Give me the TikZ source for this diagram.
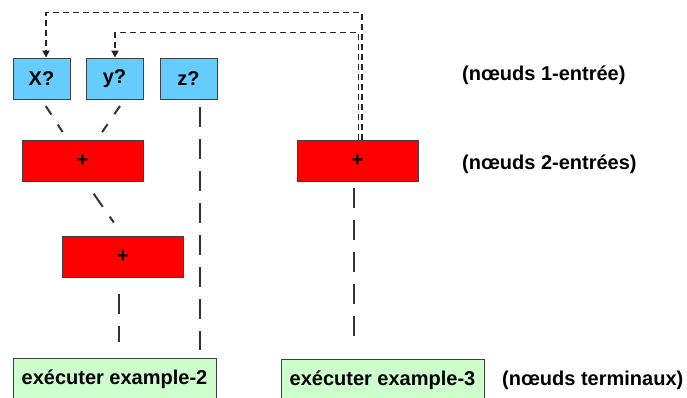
\documentclass[tikz,border=0pt]{standalone}
\usepackage{fontspec}
\setmainfont{Liberation Sans}
\usetikzlibrary{arrows.meta}

\definecolor{entryblue}{HTML}{66CCFF}
\definecolor{addred}{HTML}{FF0000}
\definecolor{termgreen}{HTML}{CCFFCC}

\begin{document}
\begin{tikzpicture}[x=1pt,y=-1pt,
    box/.style={draw=black!75,line width=0.8pt,inner sep=0pt,
      font=\bfseries\fontsize{20}{24}\selectfont},
    entry/.style={box,fill=entryblue,minimum width=57pt,minimum height=41pt},
    adder/.style={box,fill=addred,minimum width=121pt,minimum height=41pt},
    terminal/.style={box,fill=termgreen,minimum width=203pt,minimum height=42pt},
    legend/.style={anchor=west,inner sep=0pt,font=\bfseries\fontsize{20}{24}\selectfont},
    link/.style={line width=2pt,draw=black!80,dash pattern=on 20pt off 12pt},
    feedback/.style={line width=1.8pt,draw=black!85,dash pattern=on 6pt off 4pt,
      -{Triangle[length=7pt,width=7pt]}}]
    \useasboundingbox (0,0) rectangle (687,398);
    \clip (0,0) rectangle (687,398);

    % One-input nodes
    \node[entry] (inX) at (41.5,78.5) {X?};
    \node[entry] (inY) at (114.5,78.5) {y?};
    \node[entry] (inZ) at (188.5,78.5) {z?};

    % Two-input nodes
    \node[adder] (add1) at (82.5,160.5) {+};
    \node[adder] (add2) at (123,256.5) {+};
    \node[adder] (add3) at (357.5,160.5) {+};

    % Terminal nodes (cut by the lower edge)
    \node[terminal] (run2) at (114.5,379) {exécuter example-2};
    \node[terminal] (run3) at (382.5,380) {exécuter example-3};

    % Legend
    \node[legend] (lblIn) at (462,75) {(nœuds 1-entrée)};
    \node[legend] (lblAdd) at (462,164) {(nœuds 2-entrées)};
    \node[legend] (lblRun) at (502,380) {(nœuds terminaux)};

    % Links between the levels
    \draw[link,dash phase=10pt,shorten <=8pt,shorten >=9pt]
      (inX.south) -- ([xshift=-15pt]add1.north);
    \draw[link,dash phase=10pt,shorten <=8pt,shorten >=9pt]
      ([xshift=10pt]inY.south) -- ([xshift=14.5pt]add1.north);
    \draw[link,dash phase=4pt,shorten <=15pt,shorten >=16pt]
      ([xshift=2.5pt]add1.south) -- (add2.north);
    \draw[link,shorten <=17pt,shorten >=16pt]
      ([xshift=-4pt]add2.south) -- ([xshift=-4pt]add2.south |- run2.north);
    \draw[link,shorten <=8pt,shorten >=8pt]
      ([xshift=11.5pt]inZ.south) -- ([xshift=11.5pt]inZ.south |- run2.north);
    \draw[link,shorten <=7pt,shorten >=13pt]
      ([xshift=-3.5pt]add3.south) -- ([xshift=-3.5pt]add3.south |- run3.north);

    % Results sent back to the inputs
    \draw[feedback] ([xshift=4.5pt]add3.north) -- ++(0,-127) -| ([xshift=4.5pt]inX.north);
    \draw[feedback] ([xshift=1pt]add3.north) -- ++(0,-107) -| ([xshift=0.5pt]inY.north);
\end{tikzpicture}
\end{document}
